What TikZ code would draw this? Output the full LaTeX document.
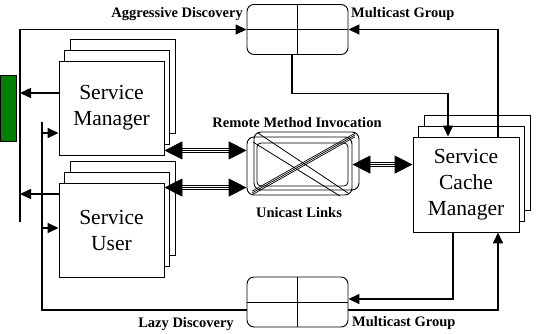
\documentclass[tikz,border=0pt]{standalone}
\usepackage{fontspec}
\setmainfont{Liberation Serif}
\usetikzlibrary{arrows.meta,shadows,positioning,calc}
\definecolor{leafgreen}{RGB}{0,128,0}

\begin{document}
\begin{tikzpicture}[
      x=1pt, y=-1pt,
      stack/.style = {
        draw, fill=white, line width=0.9pt,
        minimum width=105pt, minimum height=94pt,
        align=center, font=\fontsize{21.5}{26}\selectfont,
        double copy shadow={shadow xshift=5.5pt, shadow yshift=11pt,
          fill=white, draw=black, line width=0.8pt}
      },
      group/.style = {
        draw, rounded corners=7pt, line width=0.9pt,
        minimum width=101pt, minimum height=50pt
      },
      lbl/.style = {
        font=\fontsize{14.5}{17}\selectfont\bfseries,
        inner sep=0pt
      },
      arc/.style = {
        -{Triangle[length=11pt,width=10pt]},
        line width=1.5pt
      },
      link/.style = {
        {Triangle[length=18pt,width=18pt]}-{Triangle[length=18pt,width=18pt]},
        double, double distance=2.4pt, line width=0.9pt
      },
      linkmid/.style = {
        line width=0.7pt,
        shorten <=16pt, shorten >=16pt
      }
    ]
    \useasboundingbox (0,0) rectangle (539,333);

    % boxes
    \node[draw, fill=leafgreen, line width=0.9pt, inner sep=0pt,
      minimum width=16pt, minimum height=66pt] (panel) at (8,108) {};
    \node[stack] (sm) at (111.5,108) {Service\\Manager};
    \node[stack] (su) at (111.5,230) {Service\\User};
    \node[stack, minimum width=106pt, minimum height=95pt] (scm) at (466,184.5) {Service\\Cache\\Manager};

    % multicast groups
    \node[group] (aggr) at (297.5,29.5) {};
    \draw[line width=0.9pt] (aggr.north) -- (aggr.south) (aggr.west) -- (aggr.east);
    \node[group] (lazy) at (297.5,302) {};
    \draw[line width=0.9pt] (lazy.north) -- (lazy.south) (lazy.west) -- (lazy.east);

    % unicast network
    \node[draw, rounded corners=7pt, line width=0.9pt,
      minimum width=105pt, minimum height=58pt] (net) at (299.5,166) {};
    \draw[rounded corners=7pt, line width=0.9pt] (254,132) rectangle (359,190);
    \draw[rounded corners=4pt, line width=0.8pt] (257,143) rectangle (348,186);
    \draw[line width=0.8pt] (258,133) -- (348,193) (253,142) -- (340,196);
    \foreach \d in {-1.8,0,1.8} {
      \draw[line width=0.7pt] (252,193+\d) -- (355,135+\d);
    }

    % labels
    \node[lbl, anchor=east] (aggrlbl) at (243,14) {Aggressive Discovery};
    \node[lbl, anchor=west] (mgtop) at (351,14) {Multicast Group};
    \node[lbl] (rmi) at (297,123) {Remote Method Invocation};
    \node[lbl] (uni) at (299,213) {Unicast Links};
    \node[lbl] (lazylbl) at (186,324) {Lazy Discovery};
    \node[lbl, anchor=west] (mgbot) at (352,323) {Multicast Group};

    % rails on the left
    \coordinate (railL) at (20,222);
    \coordinate (railR) at (42,122);
    \draw[arc] (railL) |- (aggr.west);
    \coordinate (smout) at ([yshift=15pt]sm.west);
    \draw[arc] (smout) -- (smout -| railL);
    \coordinate (suout) at ([yshift=36pt]su.west);
    \draw[arc] (suout) -- (suout -| railL);

    \draw[line width=1.5pt] (railR) |- ([yshift=-8pt]lazy.west);
    \coordinate (smin) at ([yshift=-25pt]sm.west);
    \draw[arc] (smin -| railR) -- (smin);
    \coordinate (suin) at ([yshift=2pt]su.west);
    \draw[arc] (suin -| railR) -- (suin);

    % unicast links
    \coordinate (smlink) at ([yshift=5pt]sm.south east);
    \draw[link] (smlink) -- (smlink -| net.west);
    \draw[linkmid] (smlink) -- (smlink -| net.west);
    \coordinate (sulink) at ([yshift=-5pt]su.north east);
    \draw[link] (sulink) -- (sulink -| net.west);
    \draw[linkmid] (sulink) -- (sulink -| net.west);
    \coordinate (scmlink) at ([yshift=-28pt]scm.north west);
    \draw[link] (scmlink -| net.east) -- (scmlink);
    \draw[linkmid] (scmlink -| net.east) -- (scmlink);

    % multicast arcs
    \draw[arc] ([xshift=-5.5pt]aggr.south) -- ++(0,38.5) -| ([xshift=-18pt]scm.north);
    \draw[arc] ([xshift=32pt]scm.north) |- (aggr.east);
    \draw[arc] ([xshift=-13pt]scm.south) |- ([yshift=3pt]lazy.east);
    \draw[arc] ([yshift=-8pt]lazy.east) -| ([xshift=32pt]scm.south);
  \end{tikzpicture}
\end{document}
